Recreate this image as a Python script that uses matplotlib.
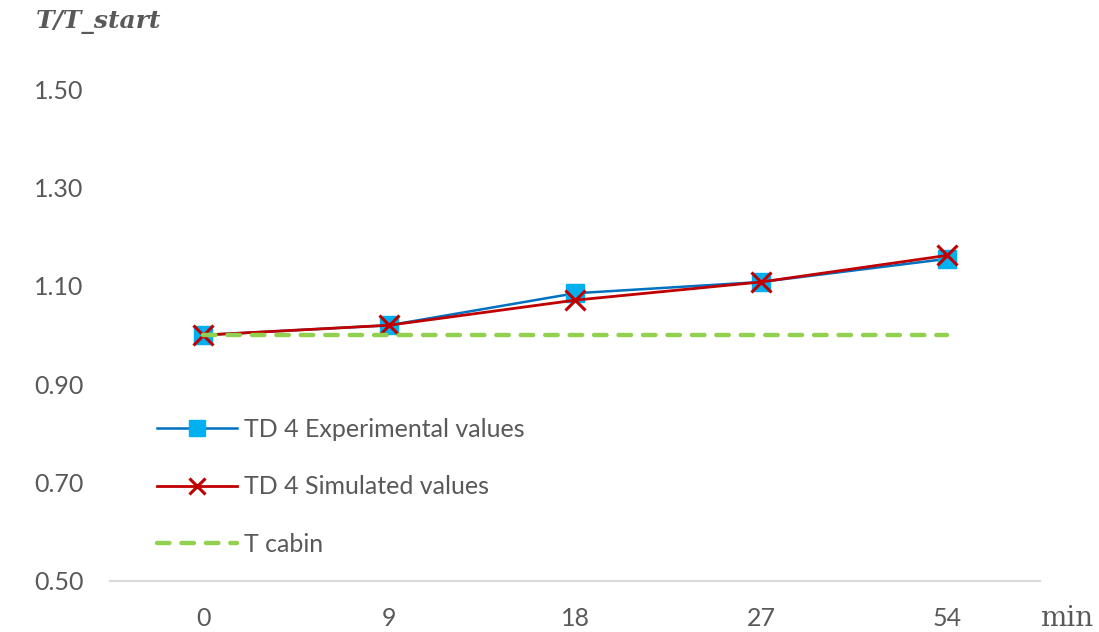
import matplotlib.pyplot as plt

# Data
minutes = ["0", "9", "18", "27", "54"]
experimental = [1.00, 1.02, 1.085, 1.108, 1.155]
simulated = [1.00, 1.02, 1.071, 1.108, 1.162]
cabin = [1.00, 1.00, 1.00, 1.00, 1.00]
y_ticks = [0.50, 0.70, 0.90, 1.10, 1.30, 1.50]

grey = "#595959"
plt.rcParams["font.family"] = ["Lato", "DejaVu Sans"]

fig = plt.figure(figsize=(10.99, 6.32), dpi=100)
ax = fig.add_axes([0.1001, 0.0807, 0.8462, 0.856])

x = range(len(minutes))
ax.plot(x, experimental, color="#0070C0", lw=1.8, marker="s", ms=13,
        mfc="#00B0F0", mec="#00B0F0", label="TD 4 Experimental values", zorder=3)
ax.plot(x, simulated, color="#C00000", lw=2.0, marker="x", ms=14, mew=2.2,
        mec="#C00000", label="TD 4 Simulated values", zorder=4)
ax.plot(x, cabin, color="#92D050", lw=3.2, dashes=(2.8, 2.7),
        dash_capstyle="round", label="T cabin", zorder=5)

ax.set_xlim(-0.5, len(minutes) - 0.5)
ax.set_ylim(0.5, 1.6)
ax.set_xticks(list(x))
ax.set_xticklabels(minutes)
ax.set_yticks(y_ticks)
ax.set_yticklabels([f"{v:.2f}" for v in y_ticks])
ax.tick_params(length=0, labelsize=18, colors=grey)
ax.tick_params(axis="x", pad=19)
ax.tick_params(axis="y", pad=19)

for side in ["top", "right", "left"]:
    ax.spines[side].set_visible(False)
ax.spines["bottom"].set_color("#D9D9D9")
ax.spines["bottom"].set_linewidth(1.5)

leg = ax.legend(loc="upper left", bbox_to_anchor=(0.05, 0.301), frameon=False,
                fontsize=18, handlelength=3.2, handletextpad=0.3,
                labelspacing=1.37, borderaxespad=0, borderpad=0,
                markerscale=0.85)
for t in leg.get_texts():
    t.set_color(grey)

fig.text(0.033, 0.965, "T/T_start", family="DejaVu Serif", style="italic",
         weight="bold", fontsize=18, color=grey, va="center")
fig.text(0.946, 0.022, "min", family="DejaVu Serif", fontsize=20,
         color=grey, va="center")

fig.savefig("out.png", dpi=100)
